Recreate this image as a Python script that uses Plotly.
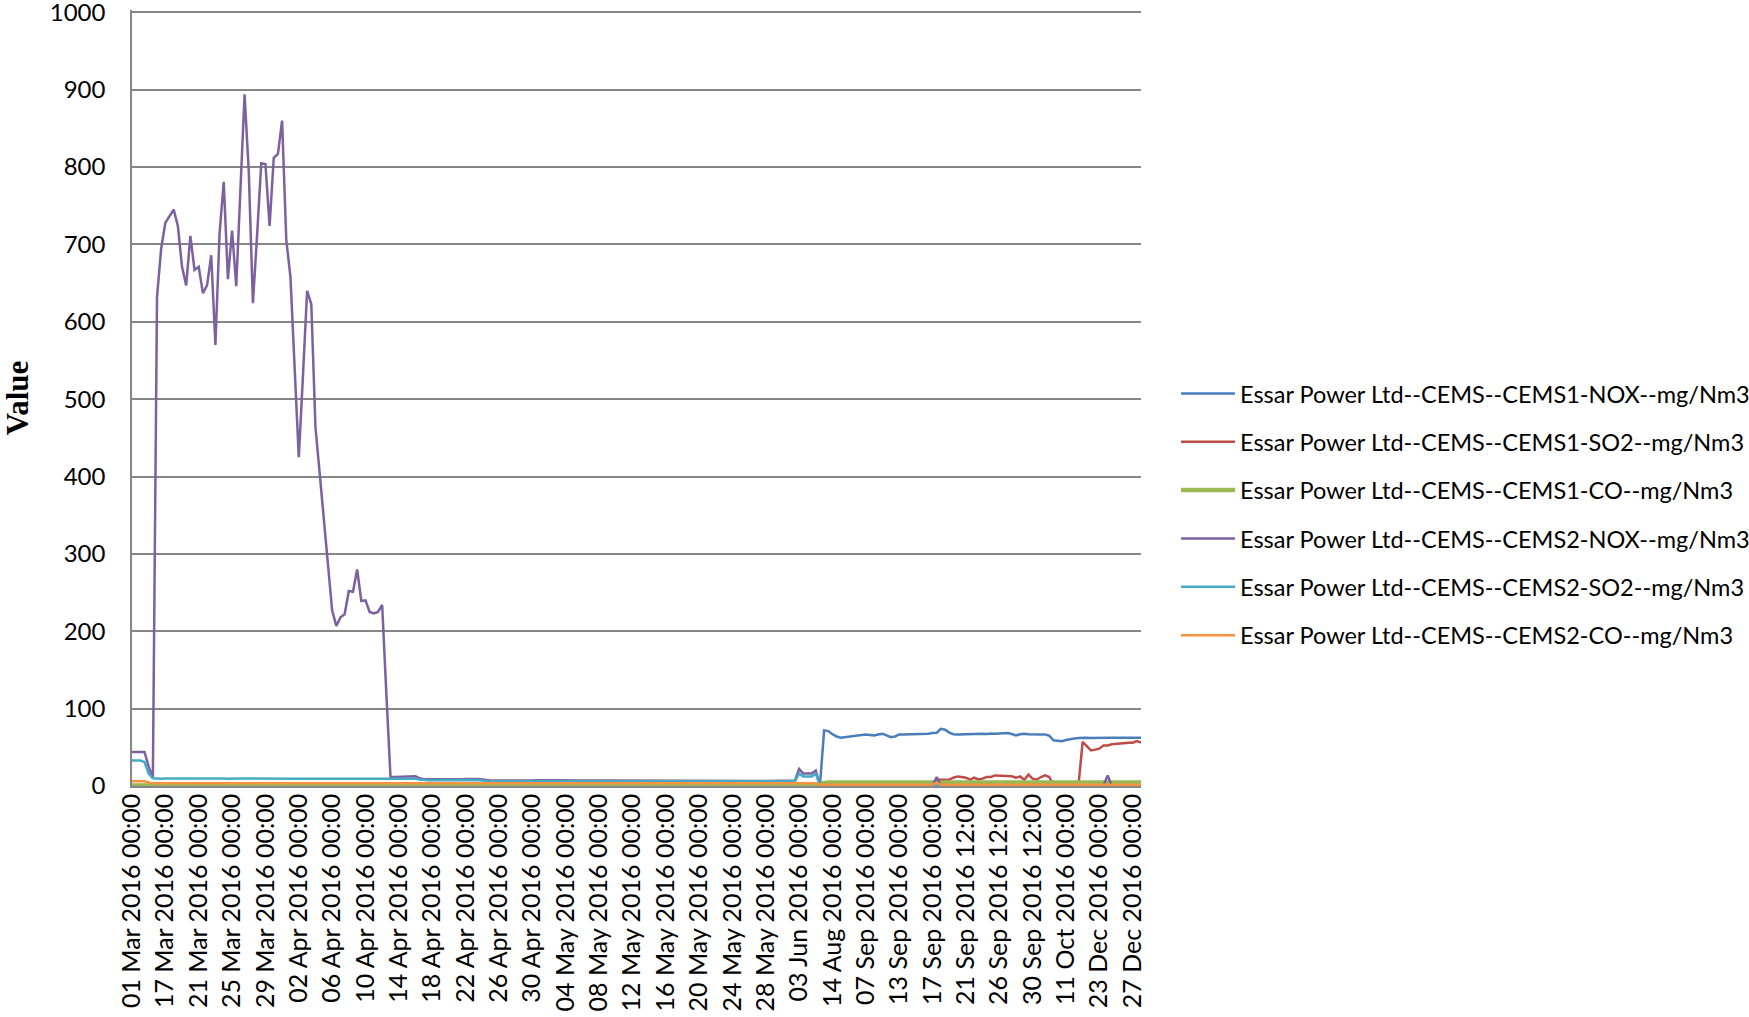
import plotly.graph_objects as go

tick_labels = [
    "01 Mar 2016 00:00", "17 Mar 2016 00:00", "21 Mar 2016 00:00", "25 Mar 2016 00:00",
    "29 Mar 2016 00:00", "02 Apr 2016 00:00", "06 Apr 2016 00:00", "10 Apr 2016 00:00",
    "14 Apr 2016 00:00", "18 Apr 2016 00:00", "22 Apr 2016 00:00", "26 Apr 2016 00:00",
    "30 Apr 2016 00:00", "04 May 2016 00:00", "08 May 2016 00:00", "12 May 2016 00:00",
    "16 May 2016 00:00", "20 May 2016 00:00", "24 May 2016 00:00", "28 May 2016 00:00",
    "03 Jun 2016 00:00", "14 Aug 2016 00:00", "07 Sep 2016 00:00", "13 Sep 2016 00:00",
    "17 Sep 2016 00:00", "21 Sep 2016 12:00", "26 Sep 2016 12:00", "30 Sep 2016 12:00",
    "11 Oct 2016 00:00", "23 Dec 2016 00:00", "27 Dec 2016 00:00",
]
tick_positions = [0, 8, 16, 24, 32, 40, 48, 56, 64, 72, 80, 88, 96, 104, 112, 120,
                  128, 136, 144, 152, 160, 168, 176, 184, 192, 200, 208, 216, 224, 232, 240]
y_ticks = [0, 100, 200, 300, 400, 500, 600, 700, 800, 900, 1000]

series_names = [
    "Essar Power Ltd--CEMS--CEMS1-NOX--mg/Nm3",
    "Essar Power Ltd--CEMS--CEMS1-SO2--mg/Nm3",
    "Essar Power Ltd--CEMS--CEMS1-CO--mg/Nm3",
    "Essar Power Ltd--CEMS--CEMS2-NOX--mg/Nm3",
    "Essar Power Ltd--CEMS--CEMS2-SO2--mg/Nm3",
    "Essar Power Ltd--CEMS--CEMS2-CO--mg/Nm3",
]

cems1_nox = [
    1, 1, 1, 1, 1, 1, 1, 1, 1, 1,
    1, 1, 1, 1, 1, 1, 1, 1, 1, 1,
    1, 1, 1, 1, 1, 1, 1, 1, 1, 1,
    1, 1, 1, 1, 1, 1, 1, 1, 1, 1,
    1, 1, 1, 1, 1, 1, 1, 1, 1, 1,
    1, 1, 1, 1, 1, 1, 1, 1, 1, 1,
    1, 1, 1, 1, 1, 1, 1, 1, 1, 1,
    1, 1, 1, 1, 1, 1, 1, 1, 1, 1,
    1, 1, 1, 1, 1, 1, 1, 1, 1, 1,
    1, 1, 1, 1, 1, 1, 1, 1, 1, 1,
    1, 1, 1, 1, 1, 1, 1, 1, 1, 1,
    1, 1, 1, 1, 1, 1, 1, 1, 1, 1,
    1, 1, 1, 1, 1, 1, 1, 1, 1, 1,
    1, 1, 1, 1, 1, 1, 1, 1, 1, 1,
    1, 1, 1, 1, 1, 1, 1, 1, 1, 1,
    1, 1, 1, 1, 1, 1, 1, 1, 1, 1,
    1, 1, 1, 1, 1, 1, 71.9, 71, 67, 64,
    62.5, 63, 64, 64.5, 65.4, 66, 66.7, 66, 65.4, 66.5,
    67.6, 65.4, 63, 64, 66.7, 66.7, 66.7, 67, 67.6, 67.6,
    67.6, 67.6, 68.4, 68.8, 74, 72.8, 69, 67, 66.7, 67,
    67.2, 67.2, 67.4, 67.4, 67.6, 67.2, 67.8, 67.4, 67.8, 68,
    68.4, 67.2, 65.4, 66.8, 67.6, 67, 67.2, 67, 66.7, 66.7,
    65, 59, 58.5, 58, 59.5, 61, 61.5, 62, 62.4, 62.4,
    62.2, 62.4, 62.5, 62.4, 62.3, 62.4, 62.4, 62.5, 62.4, 62.4,
    62.3, 62.4, 62.4,
]

cems1_so2 = [
    0.5, 0.5, 0.5, 0.5, 0.5, 0.5, 0.5, 0.5, 0.5, 0.5,
    0.5, 0.5, 0.5, 0.5, 0.5, 0.5, 0.5, 0.5, 0.5, 0.5,
    0.5, 0.5, 0.5, 0.5, 0.5, 0.5, 0.5, 0.5, 0.5, 0.5,
    0.5, 0.5, 0.5, 0.5, 0.5, 0.5, 0.5, 0.5, 0.5, 0.5,
    0.5, 0.5, 0.5, 0.5, 0.5, 0.5, 0.5, 0.5, 0.5, 0.5,
    0.5, 0.5, 0.5, 0.5, 0.5, 0.5, 0.5, 0.5, 0.5, 0.5,
    0.5, 0.5, 0.5, 0.5, 0.5, 0.5, 0.5, 0.5, 0.5, 0.5,
    0.5, 0.5, 0.5, 0.5, 0.5, 0.5, 0.5, 0.5, 0.5, 0.5,
    0.5, 0.5, 0.5, 0.5, 0.5, 0.5, 0.5, 0.5, 0.5, 0.5,
    0.5, 0.5, 0.5, 0.5, 0.5, 0.5, 0.5, 0.5, 0.5, 0.5,
    0.5, 0.5, 0.5, 0.5, 0.5, 0.5, 0.5, 0.5, 0.5, 0.5,
    0.5, 0.5, 0.5, 0.5, 0.5, 0.5, 0.5, 0.5, 0.5, 0.5,
    0.5, 0.5, 0.5, 0.5, 0.5, 0.5, 0.5, 0.5, 0.5, 0.5,
    0.5, 0.5, 0.5, 0.5, 0.5, 0.5, 0.5, 0.5, 0.5, 0.5,
    0.5, 0.5, 0.5, 0.5, 0.5, 0.5, 0.5, 0.5, 0.5, 0.5,
    0.5, 0.5, 0.5, 0.5, 0.5, 0.5, 0.5, 0.5, 0.5, 0.5,
    0.5, 0.5, 0.5, 0.5, 0.5, 0.5, 0.5, 0.5, 0.5, 0.5,
    0.5, 0.5, 0.5, 0.5, 0.5, 0.5, 0.5, 0.5, 0.5, 0.5,
    0.5, 0.5, 0.5, 0.5, 0.5, 0.5, 0.5, 0.5, 0.5, 0.5,
    0.5, 0.5, 0.5, 8.1, 8.1, 8.3, 8.1, 10.7, 12.4, 11.5,
    10.7, 8.1, 10.7, 8.5, 9.5, 11.6, 11.6, 13.7, 13.2, 12.8,
    12.8, 12.5, 10.7, 12.4, 8.1, 14.6, 9.4, 8.1, 11.6, 13.7,
    11.6, 1, 0.5, 0.5, 0.5, 0.5, 0.5, 0.5, 57, 52,
    46, 47, 48.2, 52.5, 52.5, 54, 54.7, 55.5, 55.8, 56,
    56, 58, 56,
]

cems1_co = [
    0.8, 0.8, 0.8, 0.8, 0.8, 0.8, 0.8, 0.8, 0.8, 0.8,
    0.8, 0.8, 0.8, 0.8, 0.8, 0.8, 0.8, 0.8, 0.8, 0.8,
    0.8, 0.8, 0.8, 0.8, 0.8, 0.8, 0.8, 0.8, 0.8, 0.8,
    0.8, 0.8, 0.8, 0.8, 0.8, 0.8, 0.8, 0.8, 0.8, 0.8,
    0.8, 0.8, 0.8, 0.8, 0.8, 0.8, 0.8, 0.8, 0.8, 0.8,
    0.8, 0.8, 0.8, 0.8, 0.8, 0.8, 0.8, 0.8, 0.8, 0.8,
    0.8, 0.8, 0.8, 0.8, 0.8, 0.8, 0.8, 0.8, 0.8, 0.8,
    0.8, 0.8, 0.8, 0.8, 0.8, 0.8, 0.8, 0.8, 0.8, 0.8,
    0.8, 0.8, 0.8, 0.8, 0.8, 0.8, 0.8, 0.8, 0.8, 0.8,
    0.8, 0.8, 0.8, 0.8, 0.8, 0.8, 0.8, 0.8, 0.8, 0.8,
    0.8, 0.8, 0.8, 0.8, 0.8, 0.8, 0.8, 0.8, 0.8, 0.8,
    0.8, 0.8, 0.8, 0.8, 0.8, 0.8, 0.8, 0.8, 0.8, 0.8,
    0.8, 0.8, 0.8, 0.8, 0.8, 0.8, 0.8, 0.8, 0.8, 0.8,
    0.8, 0.8, 0.8, 0.8, 0.8, 0.8, 0.8, 0.8, 0.8, 0.8,
    0.8, 0.8, 0.8, 0.8, 0.8, 0.8, 0.8, 0.8, 0.8, 0.8,
    0.8, 0.8, 0.8, 0.8, 0.8, 0.8, 0.8, 0.8, 0.8, 0.8,
    0.8, 0.8, 0.8, 0.8, 0.8, 3, 4.5, 4.6, 4.5, 4.4,
    4.5, 4.6, 4.7, 4.5, 4.4, 4.5, 4.6, 4.5, 4.5, 4.4,
    4.5, 4.6, 4.5, 4.5, 4.4, 4.5, 4.5, 4.6, 4.5, 4.5,
    4.4, 4.5, 4.5, 4.6, 4.5, 4.5, 4.4, 4.5, 4.5, 4.6,
    4.5, 4.5, 4.4, 4.5, 4.6, 4.5, 4.5, 4.4, 4.5, 4.5,
    4.6, 4.5, 4.5, 4.4, 4.5, 4.5, 4.6, 4.5, 4.5, 4.4,
    4.5, 4.5, 4.6, 4.5, 4.5, 4.4, 4.5, 4.5, 4.6, 4.5,
    4.5, 4.4, 4.5, 4.5, 4.6, 4.5, 4.5, 4.4, 4.5, 4.5,
    4.6, 4.5, 4.5,
]

cems2_nox = [
    44, 44, 44, 44, 25, 10, 632, 695, 728, 737,
    745, 724, 671, 647, 711, 667, 671, 637, 647, 686,
    570, 714, 781, 655, 718, 646, 770, 894, 795, 624,
    712, 805, 804, 724, 812, 817, 860, 706, 658, 540,
    425, 530, 640, 623, 464, 405, 346, 286, 227, 207,
    218, 222, 252, 251, 280, 239, 240, 225, 223, 225,
    234, 120, 11.5, 11.5, 11.6, 11.5, 12, 12.5, 12.5, 10,
    8.8, 8.6, 8.5, 8.5, 8.4, 8.5, 8.5, 8.6, 8.6, 8.8,
    9, 9.2, 9.3, 9.2, 8.5, 7.4, 7.2, 7.2, 7.1, 7.2,
    7.3, 7.2, 7.2, 7.0, 7.2, 7.3, 7.2, 7.4, 7.2, 7.1,
    7.2, 7.3, 7.4, 7.2, 7.2, 7.1, 7.3, 7.2, 7.2, 7.4,
    7.3, 7.2, 7.1, 7.2, 7.2, 7.3, 7.2, 7.0, 7.2, 7.3,
    7.4, 7.3, 7.2, 7.3, 7.5, 7.4, 7.3, 7.2, 7.3, 7.4,
    7.3, 7.2, 7.2, 7.4, 7.3, 7.2, 7.3, 7.4, 7.2, 7.2,
    7.3, 7.2, 7.4, 7.3, 7.2, 7.2, 7.3, 7.2, 7.2, 7.1,
    6.8, 6.6, 6.5, 6.5, 6.6, 6.5, 6.6, 6.5, 6.6, 7,
    22, 16, 16, 16, 20, 1, 0.5, 0.5, 0.5, 0.5,
    0.5, 0.5, 0.5, 0.5, 0.5, 0.5, 0.5, 0.5, 0.5, 0.5,
    0.5, 0.5, 0.5, 0.5, 0.5, 0.5, 0.5, 0.5, 0.5, 0.5,
    0.5, 0.5, 0.5, 11.5, 0.5, 0.5, 0.5, 0.5, 0.5, 0.5,
    0.5, 0.5, 0.5, 0.5, 0.5, 0.5, 0.5, 0.5, 0.5, 0.5,
    0.5, 0.5, 0.5, 0.5, 0.5, 0.5, 0.5, 0.5, 0.5, 0.5,
    0.5, 0.5, 0.5, 0.5, 0.5, 0.5, 0.5, 0.5, 0.5, 0.5,
    0.5, 0.5, 0.5, 0.5, 13.7, 0.5, 0.5, 0.5, 0.5, 0.5,
    0.5, 0.5, 0.5,
]

cems2_so2 = [
    33, 33, 33, 31, 16, 10, 9.5, 9.4, 9.6, 9.5,
    9.4, 9.5, 9.7, 9.6, 9.5, 9.6, 9.8, 9.6, 9.5, 9.7,
    9.6, 9.7, 9.6, 9.5, 9.8, 9.7, 9.6, 9.7, 9.6, 9.5,
    9.6, 9.5, 9.7, 9.6, 9.5, 9.4, 9.5, 9.6, 9.5, 9.4,
    9.5, 9.4, 9.5, 9.5, 9.4, 9.5, 9.6, 9.5, 9.5, 9.4,
    9.5, 9.5, 9.4, 9.5, 9.5, 9.5, 9.4, 9.5, 9.5, 9.5,
    9.5, 9.5, 9.5, 9.5, 9.5, 9.5, 9.5, 9.6, 9.5, 8.5,
    7.6, 7.5, 7.4, 7.5, 7.4, 7.5, 7.5, 7.4, 7.5, 7.6,
    7.6, 7.7, 7.8, 7.6, 7.0, 6.4, 6.3, 6.3, 6.2, 6.3,
    6.3, 6.2, 6.3, 6.2, 6.3, 6.4, 6.3, 6.3, 6.2, 6.3,
    6.3, 6.4, 6.3, 6.2, 6.3, 6.3, 6.2, 6.3, 6.3, 6.4,
    6.3, 6.2, 6.3, 6.3, 6.2, 6.3, 6.4, 6.3, 6.3, 6.2,
    6.3, 6.3, 6.4, 6.3, 6.3, 6.2, 6.3, 6.3, 6.2, 6.3,
    6.4, 6.3, 6.2, 6.3, 6.3, 6.2, 6.3, 6.3, 6.4, 6.3,
    6.2, 6.3, 6.3, 6.2, 6.3, 6.3, 6.2, 6.3, 6.3, 6.2,
    6.1, 6.0, 6.0, 6.1, 6.0, 6.0, 6.1, 6.0, 6.0, 6.3,
    16, 12.4, 12.4, 12.4, 16, 0.5, 0.5, 0.5, 0.5, 0.5,
    0.5, 0.5, 0.5, 0.5, 0.5, 0.5, 0.5, 0.5, 0.5, 0.5,
    0.5, 0.5, 0.5, 0.5, 0.5, 0.5, 0.5, 0.5, 0.5, 0.5,
    0.5, 0.5, 0.5, 0.5, 0.5, 0.5, 0.5, 0.5, 0.5, 0.5,
    0.5, 0.5, 0.5, 0.5, 0.5, 0.5, 0.5, 0.5, 0.5, 0.5,
    0.5, 0.5, 0.5, 0.5, 0.5, 0.5, 0.5, 0.5, 0.5, 0.5,
    0.5, 0.5, 0.5, 0.5, 0.5, 0.5, 0.5, 0.5, 0.5, 0.5,
    0.5, 0.5, 0.5, 0.5, 0.5, 0.5, 0.5, 0.5, 0.5, 0.5,
    0.5, 0.5, 0.5,
]

cems2_co = [
    6, 6, 6, 6, 4.5, 3.4, 3.4, 3.4, 3.4, 3.4,
    3.4, 3.4, 3.4, 3.4, 3.4, 3.4, 3.4, 3.4, 3.4, 3.4,
    3.4, 3.4, 3.4, 3.4, 3.4, 3.4, 3.4, 3.4, 3.4, 3.4,
    3.4, 3.4, 3.4, 3.4, 3.4, 3.4, 3.4, 3.4, 3.4, 3.4,
    3.4, 3.4, 3.4, 3.4, 3.4, 3.4, 3.4, 3.4, 3.4, 3.4,
    3.4, 3.4, 3.4, 3.4, 3.4, 3.4, 3.4, 3.4, 3.4, 3.4,
    3.4, 3.4, 3.4, 3.4, 3.4, 3.4, 3.4, 3.4, 3.4, 3.4,
    3.4, 3.4, 3.4, 3.4, 3.4, 3.4, 3.4, 3.4, 3.4, 3.4,
    3.4, 3.4, 3.4, 3.4, 3.4, 3.4, 3.4, 3.4, 3.4, 3.4,
    3.4, 3.4, 3.4, 3.4, 3.4, 3.4, 3.4, 3.4, 3.4, 3.4,
    3.4, 3.4, 3.4, 3.4, 3.4, 3.4, 3.4, 3.4, 3.4, 3.4,
    3.4, 3.4, 3.4, 3.4, 3.4, 3.4, 3.4, 3.4, 3.4, 3.4,
    3.4, 3.4, 3.4, 3.4, 3.4, 3.4, 3.4, 3.4, 3.4, 3.4,
    3.4, 3.4, 3.4, 3.4, 3.4, 3.4, 3.4, 3.4, 3.4, 3.4,
    3.4, 3.4, 3.4, 3.4, 3.4, 3.4, 3.4, 3.4, 3.4, 3.4,
    3.4, 3.4, 3.4, 3.4, 3.4, 3.4, 3.4, 3.4, 3.4, 3.4,
    3.4, 3.4, 3.4, 3.4, 3.4, 1.7, 1.7, 1.7, 1.7, 1.7,
    1.7, 1.7, 1.7, 1.7, 1.7, 1.7, 1.7, 1.7, 1.7, 1.7,
    1.7, 1.7, 1.7, 1.7, 1.7, 1.7, 1.7, 1.7, 1.7, 1.7,
    1.7, 1.7, 1.7, 4, 1.7, 1.7, 1.7, 1.7, 1.7, 1.7,
    1.7, 1.7, 1.7, 1.7, 1.7, 1.7, 1.7, 1.7, 1.7, 1.7,
    1.7, 1.7, 1.7, 1.7, 1.7, 1.7, 1.7, 1.7, 1.7, 1.7,
    1.7, 1.7, 1.7, 1.7, 1.7, 1.7, 1.7, 1.7, 1.7, 1.7,
    1.7, 1.7, 1.7, 1.7, 1.7, 1.7, 1.7, 1.7, 1.7, 1.7,
    1.7, 1.7, 1.7,
]

series_values = [cems1_nox, cems1_so2, cems1_co, cems2_nox, cems2_so2, cems2_co]
series_colors = ["#4A7EBB", "#BE4B48", "#98B954", "#7D60A0", "#46AAC5", "#F69240"]
series_widths = [2.5, 2.5, 4.5, 2.5, 2.5, 2.5]

x_index = list(range(len(cems2_nox)))

fig = go.Figure()
for name, vals, col, w in zip(series_names, series_values, series_colors, series_widths):
    fig.add_trace(go.Scatter(
        x=x_index, y=vals, mode="lines", name=name,
        line=dict(color=col, width=w), legendgroup=name,
    ))

font_family = "Lato"
fig.update_layout(
    width=1749, height=1017,
    margin=dict(l=132, r=608, t=10, b=231, autoexpand=False),
    plot_bgcolor="white", paper_bgcolor="white",
    showlegend=True,
    legend=dict(
        xref="container", x=0.6724, xanchor="left",
        yref="paper", y=0.534, yanchor="top",
        font=dict(family=font_family, size=23.5, color="black"),
        traceorder="grouped", tracegroupgap=14.8, itemwidth=54,
        bgcolor="rgba(0,0,0,0)",
    ),
    xaxis=dict(
        range=[0, len(cems2_nox) - 1], automargin=False,
        tickmode="array", tickvals=tick_positions, ticktext=tick_labels,
        tickangle=-90, showgrid=False, zeroline=False,
        showline=True, linecolor="#868686", linewidth=1.5,
        ticks="", ticklabelstandoff=-4,
        tickfont=dict(family=font_family, size=25, color="black"),
    ),
    yaxis=dict(
        range=[0, 1003], automargin=False,
        tickmode="array", tickvals=y_ticks, ticklabeloverflow="allow",
        showgrid=True, gridcolor="#868686", gridwidth=1.5,
        zeroline=False, showline=True, linecolor="#868686", linewidth=1.5,
        ticks="", ticklabelstandoff=20,
        tickfont=dict(family=font_family, size=24, color="black"),
        title=dict(text="<b>Value</b>", font=dict(family="Liberation Serif", size=31, color="black"),
                   standoff=40),
    ),
)

fig.write_html("out.html", config={"displayModeBar": False},
               post_script="document.body.style.margin='0px';")
